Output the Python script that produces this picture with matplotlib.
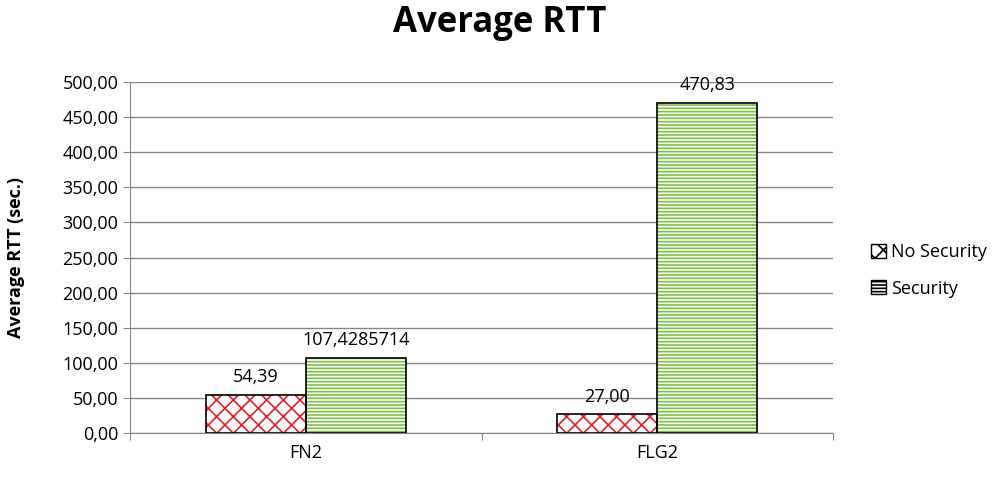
import matplotlib.pyplot as plt
from matplotlib.patches import Patch
import numpy as np

categories = ["FN2", "FLG2"]
no_security = [54.39, 27.00]
security = [107.4285714, 470.83]
no_sec_labels = ["54,39", "27,00"]
sec_labels = ["107,4285714", "470,83"]

plt.rcParams['font.family'] = ['Open Sans', 'DejaVu Sans']
plt.rcParams['hatch.linewidth'] = 1.2

fig = plt.figure(figsize=(10, 4.83), dpi=100)
ax = fig.add_axes([0.13, 0.1035, 0.703, 0.7265])

x = np.arange(len(categories))
w = 0.285

# hatched fills, then plain black outlines on top
plt.rcParams['hatch.color'] = '#e0202a'
ax.bar(x - w / 2, no_security, w, color='white', edgecolor='#e0202a', hatch='xx', linewidth=0, zorder=3)
ax.bar(x - w / 2, no_security, w, fill=False, edgecolor='black', linewidth=1.2, zorder=4)
ax.bar(x + w / 2, security, w, color='white', edgecolor='#7ac143', hatch='-----', linewidth=0, zorder=3)
ax.bar(x + w / 2, security, w, fill=False, edgecolor='black', linewidth=1.2, zorder=4)

for xi, v, s in zip(x - w / 2, no_security, no_sec_labels):
    ax.text(xi, v + 12, s, ha='center', va='bottom', fontsize=13)
for xi, v, s in zip(x + w / 2, security, sec_labels):
    ax.text(xi, v + 12, s, ha='center', va='bottom', fontsize=13)

ax.set_xlim(-0.5, 1.5)
ax.set_ylim(0, 500)
ax.set_yticks(np.arange(0, 501, 50))
ax.set_yticklabels([f"{v:.2f}".replace('.', ',') for v in np.arange(0, 501, 50)], fontsize=13)
ax.set_xticks([-0.5, 0.5, 1.5], minor=False)
ax.set_xticklabels([])
ax.set_xticks(x, minor=True)
ax.set_xticklabels(categories, minor=True, fontsize=13)
ax.tick_params(axis='x', which='minor', length=0, pad=8)
ax.tick_params(axis='x', which='major', length=5, color='#868686')
ax.tick_params(axis='y', length=5, color='#868686')
ax.yaxis.grid(True, color='#868686', linewidth=1, zorder=0)
ax.set_axisbelow(True)
for side in ['top', 'right']:
    ax.spines[side].set_visible(False)
for side in ['left', 'bottom']:
    ax.spines[side].set_color('#868686')

ax.set_ylabel("Average RTT (sec.)", fontsize=13, fontweight='bold', labelpad=6)
ax.yaxis.set_label_coords(-0.15, 0.5)
fig.suptitle("Average RTT", fontsize=25, fontweight='bold', y=0.99)

h1 = Patch(facecolor='white', edgecolor='black', hatch='xx', linewidth=1)
h2 = Patch(facecolor='white', edgecolor='black', hatch='-----', linewidth=1)
leg = fig.legend([h1, h2], ["No Security", "Security"], loc='center left',
                 bbox_to_anchor=(0.855, 0.44), frameon=False, fontsize=13,
                 handlelength=0.8, handleheight=0.8, labelspacing=1.0, handletextpad=0.3)
# hatch colours for legend handles
leg.legend_handles[0].set_hatch_color('#e0202a') if hasattr(leg.legend_handles[0], 'set_hatch_color') else None
leg.legend_handles[1].set_hatch_color('#7ac143') if hasattr(leg.legend_handles[1], 'set_hatch_color') else None

fig.savefig("out.png", dpi=100)
